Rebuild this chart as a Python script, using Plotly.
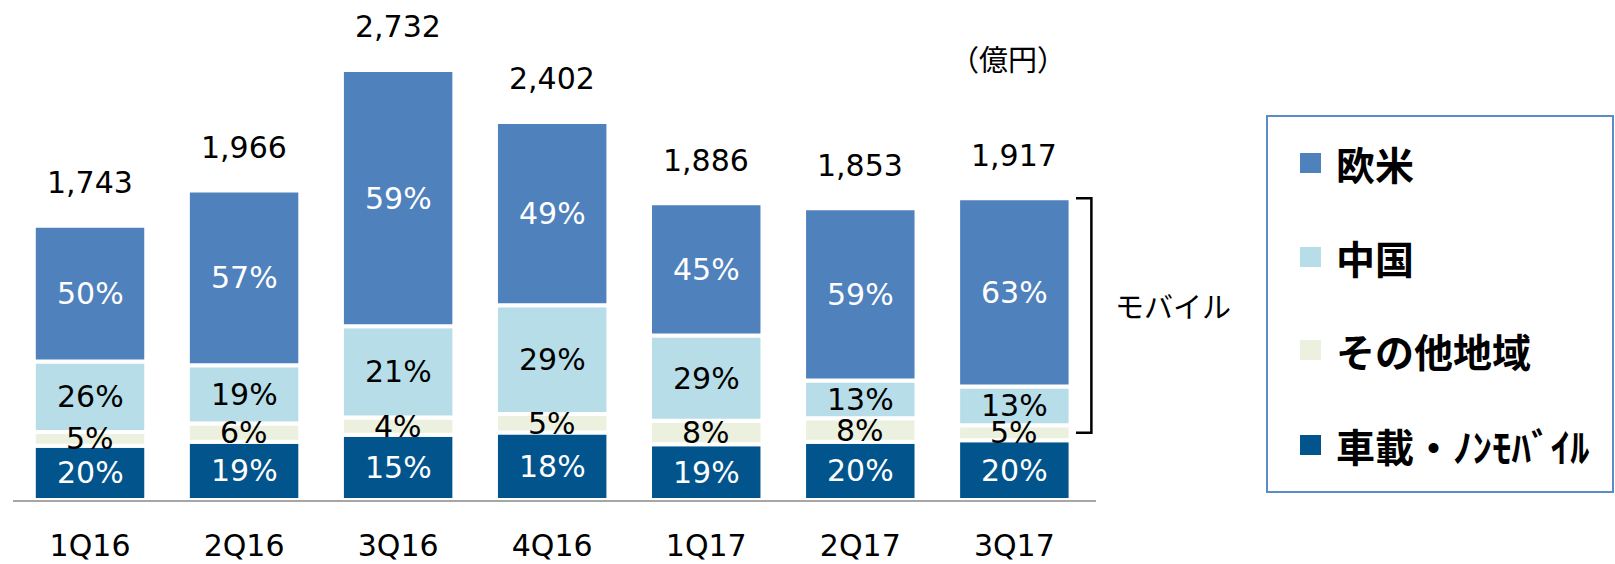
import plotly.graph_objects as go

quarters = ["1Q16", "2Q16", "3Q16", "4Q16", "1Q17", "2Q17", "3Q17"]
totals = [1743, 1966, 2732, 2402, 1886, 1853, 1917]
# shares (%) per segment, bottom to top
pct_vehicle = [20, 19, 15, 18, 19, 20, 20]   # 車載・ノンモバイル
pct_other = [5, 6, 4, 5, 8, 8, 5]            # その他地域
pct_china = [26, 19, 21, 29, 29, 13, 13]     # 中国
pct_west = [50, 57, 59, 49, 45, 59, 63]      # 欧米

series = [
    ("車載・ﾉﾝﾓﾊﾞｲﾙ", pct_vehicle, "#01558C", "white"),
    ("その他地域", pct_other, "#EBF1DE", "black"),
    ("中国", pct_china, "#B7DEE8", "black"),
    ("欧米", pct_west, "#4F81BD", "white"),
]

NUM_FONT = "DejaVu Sans"
JP_FONT = "Noto Sans CJK JP"

xs = list(range(len(quarters)))
sums = [sum(s[1][i] for s in series) for i in xs]

fig = go.Figure()
annotations = []
base = [0.0] * len(xs)
for name, pcts, color, tcolor in series:
    vals = [totals[i] * pcts[i] / sums[i] for i in xs]
    fig.add_trace(go.Bar(
        x=xs, y=vals, base=base[:], name=name,
        marker=dict(color=color, line=dict(color="white", width=4)),
        width=0.73, showlegend=False, hoverinfo="skip",
    ))
    for i in xs:
        annotations.append(dict(
            x=i, y=base[i] + vals[i] / 2, xref="x", yref="y",
            text=f"{pcts[i]}%", showarrow=False,
            xanchor="center", yanchor="middle",
            font=dict(family=NUM_FONT, size=30, color=tcolor),
        ))
    base = [base[i] + vals[i] for i in xs]

for i in xs:
    annotations.append(dict(
        x=i, y=totals[i], xref="x", yref="y", text=f"{totals[i]:,}",
        showarrow=False, xanchor="center", yanchor="middle", yshift=43,
        font=dict(family=NUM_FONT, size=30, color="black"),
    ))

# pixel -> paper helpers (plot area: x 13..1096, y 0..500)
def px(x):
    return (x - 13) / 1083

def py(y):
    return (500 - y) / 500

annotations.append(dict(
    x=px(1008), y=py(58), xref="paper", yref="paper", text="（億円）",
    showarrow=False, xanchor="center", yanchor="middle",
    font=dict(family=JP_FONT, size=29, color="black"),
))
annotations.append(dict(
    x=px(1113), y=py(305), xref="paper", yref="paper", text="モバイル",
    showarrow=False, xanchor="left", yanchor="middle",
    font=dict(family=JP_FONT, size=29, color="black"),
))

shapes = []
# bracket around mobile share of last quarter
last = len(xs) - 1
vveh = totals[last] * pct_vehicle[last] / sums[last]
voth = totals[last] * pct_other[last] / sums[last]
ybot = vveh + voth / 2
ytop = totals[last]
x0b, x1b = last + 0.40, last + 0.50
shapes.append(dict(
    type="path", xref="x", yref="y",
    path=f"M {x0b},{ytop} L {x1b},{ytop} L {x1b},{ybot} L {x0b},{ybot}",
    line=dict(color="black", width=2.5),
))

# legend box
shapes.append(dict(
    type="rect", xref="paper", yref="paper",
    x0=px(1267), x1=px(1613), y0=py(492), y1=py(116),
    line=dict(color="#5B8CC8", width=2), fillcolor="white",
))
legend_rows = [("欧米", "#4F81BD", 163), ("中国", "#B7DEE8", 257),
               ("その他地域", "#EBF1DE", 350), ("車載・ﾉﾝﾓﾊﾞｲﾙ", "#01558C", 445)]
for label, color, yc in legend_rows:
    shapes.append(dict(
        type="rect", xref="paper", yref="paper",
        x0=px(1300), x1=px(1321), y0=py(yc + 10), y1=py(yc - 10),
        line=dict(width=0), fillcolor=color,
    ))
    annotations.append(dict(
        x=px(1334), y=py(yc), xref="paper", yref="paper", text=label,
        showarrow=False, xanchor="left", yanchor="middle",
        font=dict(family=JP_FONT, size=39, color="black", weight="bold"),
    ))

fig.update_layout(
    width=1615, height=564,
    margin=dict(l=13, r=519, t=0, b=64),
    paper_bgcolor="white", plot_bgcolor="white",
    barmode="overlay",
    xaxis=dict(
        range=[-0.5, 6.53], tickvals=xs, ticktext=quarters,
        showline=True, linecolor="#A6A6A6", linewidth=2,
        showgrid=False, zeroline=False, automargin=False,
        ticks="outside", ticklen=18, tickcolor="rgba(0,0,0,0)",
        tickfont=dict(family=NUM_FONT, size=30, color="black"),
    ),
    yaxis=dict(range=[0, 500 / 0.1574], visible=False),
    annotations=annotations, shapes=shapes,
)

fig.write_html(
    "out.html",
    config={"displayModeBar": False},
    post_script="document.body.style.margin='0';document.body.style.overflow='hidden';",
)
